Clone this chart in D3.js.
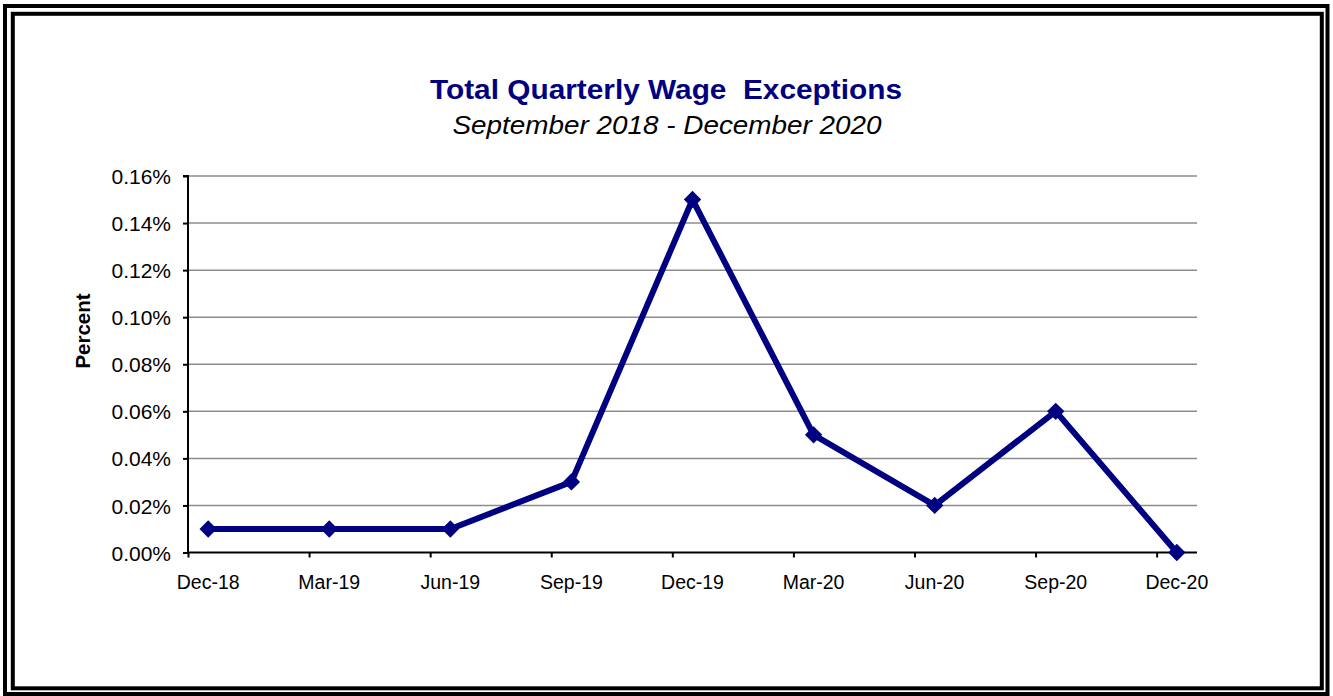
<!DOCTYPE html>
<html>
<head>
<meta charset="utf-8">
<script src="https://cdn.jsdelivr.net/npm/d3@7"></script>
<style>
  html, body { margin: 0; padding: 0; background: #fff; }
  svg { display: block; }
  text { font-family: "Liberation Sans", Arial, sans-serif; }
</style>
</head>
<body>
<svg id="chart" width="1333" height="696"></svg>
<script>
// ---- data ----
const categories = ["Dec-18", "Mar-19", "Jun-19", "Sep-19", "Dec-19", "Mar-20", "Jun-20", "Sep-20", "Dec-20"];
const values = [0.01, 0.01, 0.01, 0.03, 0.15, 0.05, 0.02, 0.06, 0.00];
const yTicks = [0, 0.02, 0.04, 0.06, 0.08, 0.10, 0.12, 0.14, 0.16];
const titleText = "Total Quarterly Wage  Exceptions";
const subtitleText = "September 2018 - December 2020";
const yLabel = "Percent";

// ---- layout ----
const W = 1333, H = 696;
const plot = { left: 188, right: 1197, top: 176, bottom: 552.5 };
const navy = "#000080";

const svg = d3.select("#chart");

// frame
svg.append("rect").attr("x", 5).attr("y", 6).attr("width", 1322.5).attr("height", 688)
  .attr("fill", "none").attr("stroke", "#000").attr("stroke-width", 4);
svg.append("rect").attr("x", 12.8).attr("y", 13.8).attr("width", 1309).attr("height", 674.5)
  .attr("fill", "none").attr("stroke", "#000").attr("stroke-width", 4);

// scales: date-like axis in months, 3 months per quarter, points mid-month
const monthsPerCat = 3;
const x = d3.scaleLinear().domain([0, categories.length * monthsPerCat - 2]).range([plot.left, plot.right]);
const xTickPos = categories.map((c, i) => i * monthsPerCat);
const xPoint = i => x(i * monthsPerCat + 0.5);
const y = d3.scaleLinear().domain([0, 0.16]).range([plot.bottom, plot.top]);

// gridlines
svg.append("g").selectAll("line").data(yTicks.filter(d => d > 0)).join("line")
  .attr("x1", plot.left).attr("x2", plot.right)
  .attr("y1", d => y(d)).attr("y2", d => y(d))
  .attr("stroke", "#8c8c8c").attr("stroke-width", 1.5);

// y axis
const yAxis = d3.axisLeft(y).tickValues(yTicks).tickSize(5).tickPadding(12)
  .tickFormat(d => d3.format(".2f")(d) + "%");
const gy = svg.append("g").attr("transform", `translate(${plot.left},0)`).call(yAxis);
gy.select(".domain").attr("stroke", "#000").attr("stroke-width", 2).attr("d", `M-5,${plot.top}H0V${plot.bottom}`);
gy.selectAll(".tick line").attr("stroke", "#000").attr("stroke-width", 2);
gy.selectAll(".tick text").attr("font-size", 21).attr("fill", "#000")
  .attr("font-family", "Liberation Sans, Arial, sans-serif").attr("dy", "0.36em");

// x axis
const xAxis = d3.axisBottom(x).tickValues(xTickPos).tickSize(5).tickFormat("");
const gx = svg.append("g").attr("transform", `translate(0,${plot.bottom})`).call(xAxis);
gx.select(".domain").attr("stroke", "#000").attr("stroke-width", 2).attr("d", `M${plot.left},0H${plot.right}`);
gx.selectAll(".tick line").attr("stroke", "#000").attr("stroke-width", 2);
svg.append("g").selectAll("text").data(categories).join("text")
  .attr("x", (d, i) => xPoint(i)).attr("y", 589)
  .attr("text-anchor", "middle").attr("font-size", 19.5).attr("fill", "#000")
  .text(d => d);

// line
const line = d3.line().x((d, i) => xPoint(i)).y(d => y(d));
svg.append("path").datum(values).attr("d", line)
  .attr("fill", "none").attr("stroke", navy).attr("stroke-width", 6).attr("stroke-linejoin", "miter");

// markers (diamonds)
const diamond = d3.symbol().type(d3.symbolSquare).size(150);
svg.append("g").selectAll("path").data(values).join("path")
  .attr("d", diamond)
  .attr("transform", (d, i) => `translate(${xPoint(i)},${y(d)}) rotate(45)`)
  .attr("fill", navy);

// titles
svg.append("text").attr("x", 666).attr("y", 99).attr("text-anchor", "middle")
  .attr("font-size", 27).attr("font-weight", "bold").attr("fill", navy)
  .attr("textLength", 472).attr("lengthAdjust", "spacingAndGlyphs")
  .style("white-space", "pre").text(titleText);
svg.append("text").attr("x", 667).attr("y", 134).attr("text-anchor", "middle")
  .attr("font-size", 25).attr("font-style", "italic").attr("fill", "#000")
  .attr("textLength", 429).attr("lengthAdjust", "spacingAndGlyphs")
  .text(subtitleText);

// y label
svg.append("text").attr("transform", `translate(90,331) rotate(-90)`)
  .attr("text-anchor", "middle").attr("font-size", 20.5).attr("font-weight", "bold")
  .attr("fill", "#000").text(yLabel);
</script>
</body>
</html>
